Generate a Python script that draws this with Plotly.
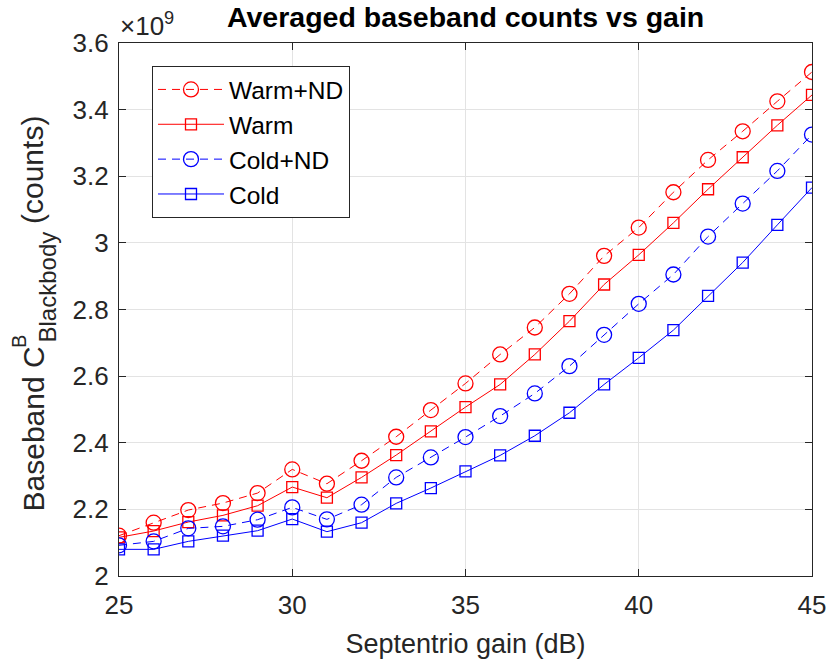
import plotly.graph_objects as go

gain = list(range(25, 46))
warm_nd = [2.121, 2.160, 2.198, 2.219, 2.249, 2.320, 2.277, 2.346, 2.418, 2.498, 2.578,
           2.665, 2.746, 2.847, 2.961, 3.046, 3.152, 3.249, 3.335, 3.425, 3.513]
warm = [2.116, 2.135, 2.162, 2.182, 2.211, 2.267, 2.235, 2.296, 2.363, 2.434, 2.507,
        2.575, 2.665, 2.765, 2.875, 2.964, 3.060, 3.161, 3.257, 3.353, 3.444]
cold_nd = [2.092, 2.104, 2.143, 2.149, 2.169, 2.206, 2.170, 2.214, 2.296, 2.356, 2.417,
           2.480, 2.548, 2.630, 2.724, 2.817, 2.905, 3.019, 3.118, 3.216, 3.325]
cold = [2.080, 2.080, 2.104, 2.121, 2.136, 2.171, 2.133, 2.160, 2.218, 2.264, 2.314,
        2.362, 2.421, 2.490, 2.575, 2.655, 2.738, 2.841, 2.941, 3.054, 3.166]

scale = 1e9
y_ticks = [2.0, 2.2, 2.4, 2.6, 2.8, 3.0, 3.2, 3.4, 3.6]
y_ticktext = ["2", "2.2", "2.4", "2.6", "2.8", "3", "3.2", "3.4", "3.6"]
x_ticks = [25, 30, 35, 40, 45]

series = [
    ("Warm+ND", warm_nd, "#FF0000", "circle-open", 15, "8px,6px"),
    ("Warm", warm, "#FF0000", "square-open", 11, "solid"),
    ("Cold+ND", cold_nd, "#0000FF", "circle-open", 15, "8px,6px"),
    ("Cold", cold, "#0000FF", "square-open", 11, "solid"),
]

fig = go.Figure()
for name, vals, color, sym, size, dash in series:
    fig.add_trace(go.Scatter(
        x=gain, y=[v * scale for v in vals], name=name, mode="lines+markers",
        line=dict(color=color, width=1, dash=dash),
        marker=dict(symbol=sym, size=size, color=color, line=dict(color=color, width=1.3)),
    ))

font_family = "Liberation Sans, Arial, sans-serif"
axis_col = "#262626"

# plot-area geometry (pixels)
L, R, T, B = 119, 812, 43, 576
W, H = R - L, B - T


def px(x):
    return (x - L) / W


def py(y):
    return (B - y) / H


fig.update_layout(
    width=830, height=669,
    margin=dict(l=L, r=830 - R, t=T, b=669 - B, autoexpand=False),
    paper_bgcolor="white", plot_bgcolor="white",
    font=dict(family=font_family, color=axis_col, size=26),
    showlegend=True,
    legend=dict(
        x=px(152), y=py(66), xanchor="left", yanchor="top",
        bgcolor="white", bordercolor=axis_col, borderwidth=1,
        font=dict(size=24.5, color="black"),
        tracegroupgap=0, itemwidth=66,
    ),
    xaxis=dict(
        range=[25, 45], tickvals=x_ticks, ticks="inside", ticklen=7, tickcolor=axis_col,
        showline=True, linecolor=axis_col, linewidth=1.3, mirror="ticks",
        showgrid=True, gridcolor="#E3E3E3", gridwidth=1, zeroline=False,
        tickfont=dict(size=26, color=axis_col), automargin=False, ticklabelstandoff=6,
        title=dict(text="Septentrio gain (dB)", font=dict(size=27, color=axis_col), standoff=14),
    ),
    yaxis=dict(
        range=[2.0 * scale, 3.6 * scale], tickvals=[t * scale for t in y_ticks],
        ticktext=y_ticktext, ticks="inside", ticklen=7, tickcolor=axis_col,
        showline=True, linecolor=axis_col, linewidth=1.3, mirror="ticks",
        showgrid=True, gridcolor="#E3E3E3", gridwidth=1, zeroline=False,
        tickfont=dict(size=26, color=axis_col), automargin=False, ticklabelstandoff=4,
    ),
)

# Title
fig.add_annotation(
    x=0.5, y=py(17), xref="paper", yref="paper", xanchor="center", yanchor="middle",
    text="<b>Averaged baseband counts vs gain</b>", showarrow=False,
    font=dict(size=28.5, color="black", family=font_family),
)
# Exponent label
fig.add_annotation(
    x=px(118), y=py(24), xref="paper", yref="paper", xanchor="left", yanchor="middle",
    text="\u00d710<sup>9</sup>", showarrow=False,
    font=dict(size=26, color=axis_col, family=font_family),
)
# Y axis title, assembled from pieces (rotated)
ylab_parts = [
    ("Baseband C", 30, 33, 429.5),
    ("Blackbody", 24, 47, 287.5),
    ("(counts)", 30, 33, 170),
    ("B", 20, 19, 342),
]
for txt, fs, cx, cy in ylab_parts:
    fig.add_annotation(
        x=px(cx), y=py(cy), xref="paper", yref="paper", xanchor="center", yanchor="middle",
        text=txt, textangle=-90, showarrow=False,
        font=dict(size=fs, color=axis_col, family=font_family),
    )

fig.write_html("out.html")
